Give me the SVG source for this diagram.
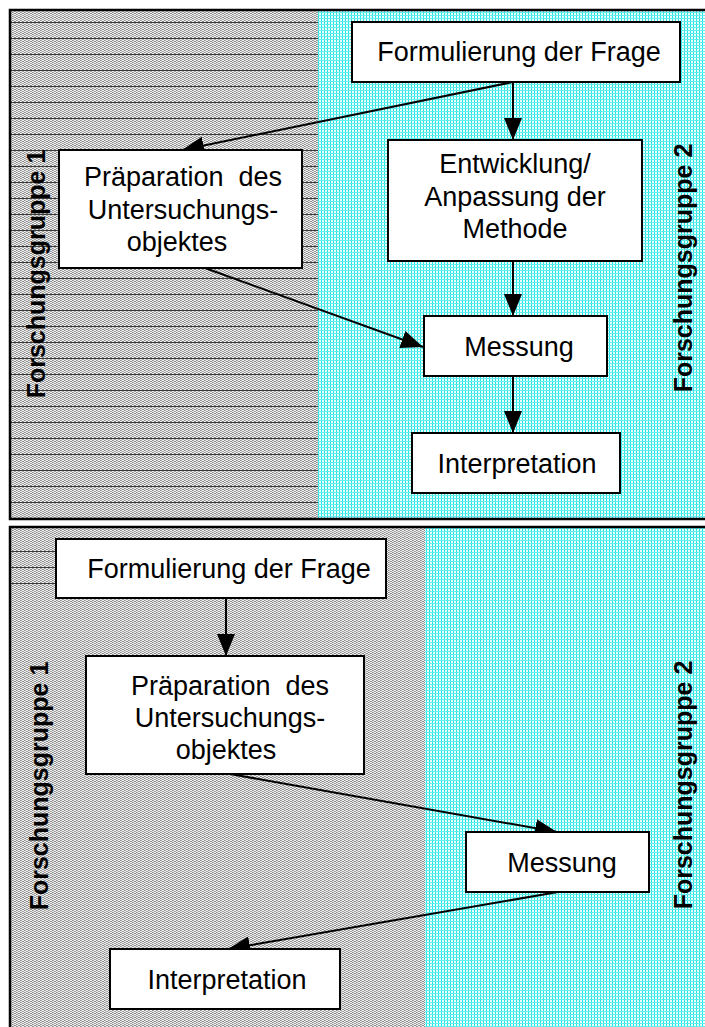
<svg xmlns="http://www.w3.org/2000/svg" width="705" height="1027" viewBox="0 0 705 1027">
<style>
.box{fill:#fff;stroke:#000;stroke-width:2}
.t{font-family:"Liberation Sans",Arial,sans-serif;font-size:27px;fill:#000;text-anchor:middle}
.lab{font-family:"Liberation Sans",Arial,sans-serif;font-size:25px;font-weight:bold;fill:#000;text-anchor:middle}
.con{stroke:#000;stroke-width:2;fill:none;marker-end:url(#ah)}
.hl{stroke:#3a3a3a;stroke-width:1}
</style>
<defs>
<pattern id="grey" width="4" height="4" patternUnits="userSpaceOnUse">
<rect width="4" height="4" fill="#f0f0f0"/>
<rect x="0" y="0" width="2" height="1" fill="#8c8c8c"/>
<rect x="2" y="1" width="2" height="1" fill="#8c8c8c"/>
<rect x="0" y="2" width="2" height="1" fill="#8c8c8c"/>
<rect x="2" y="3" width="2" height="1" fill="#a4a4a4"/>
<rect x="1" y="0" width="1" height="4" fill="#d0d0d0" opacity="0.5"/>
</pattern>
<pattern id="cyan" width="3" height="3" patternUnits="userSpaceOnUse">
<rect width="3" height="3" fill="#eaffff"/>
<rect x="0" y="0" width="1" height="3" fill="#22e4e4"/>
<rect x="0" y="0" width="3" height="1" fill="#66eeee"/>
</pattern>
<marker id="ah" markerUnits="userSpaceOnUse" markerWidth="22" markerHeight="18" refX="22" refY="9" orient="auto">
<path d="M0,0 L22,9 L0,18 z" fill="#000"/>
</marker>
</defs>

<g id="panel-top">
<rect x="10" y="10" width="308" height="509" fill="url(#grey)"/>
<rect x="318" y="10" width="387" height="509" fill="url(#cyan)"/>
<g id="hlines-top">
<line class="hl" x1="10" x2="318" y1="22.5" y2="22.5"/>
<line class="hl" x1="10" x2="318" y1="38.5" y2="38.5"/>
<line class="hl" x1="10" x2="318" y1="54.5" y2="54.5"/>
<line class="hl" x1="10" x2="318" y1="70.5" y2="70.5"/>
<line class="hl" x1="10" x2="318" y1="86.5" y2="86.5"/>
<line class="hl" x1="10" x2="318" y1="102.5" y2="102.5"/>
<line class="hl" x1="10" x2="318" y1="118.5" y2="118.5"/>
<line class="hl" x1="10" x2="318" y1="134.5" y2="134.5"/>
<line class="hl" x1="10" x2="318" y1="150.5" y2="150.5"/>
<line class="hl" x1="10" x2="318" y1="166.5" y2="166.5"/>
<line class="hl" x1="10" x2="318" y1="182.5" y2="182.5"/>
<line class="hl" x1="10" x2="318" y1="198.5" y2="198.5"/>
<line class="hl" x1="10" x2="318" y1="214.5" y2="214.5"/>
<line class="hl" x1="10" x2="318" y1="230.5" y2="230.5"/>
<line class="hl" x1="10" x2="318" y1="246.5" y2="246.5"/>
<line class="hl" x1="10" x2="318" y1="262.5" y2="262.5"/>
<line class="hl" x1="10" x2="318" y1="278.5" y2="278.5"/>
<line class="hl" x1="10" x2="318" y1="294.5" y2="294.5"/>
<line class="hl" x1="10" x2="318" y1="310.5" y2="310.5"/>
<line class="hl" x1="10" x2="318" y1="326.5" y2="326.5"/>
<line class="hl" x1="10" x2="318" y1="342.5" y2="342.5"/>
<line class="hl" x1="10" x2="318" y1="358.5" y2="358.5"/>
<line class="hl" x1="10" x2="318" y1="374.5" y2="374.5"/>
<line class="hl" x1="10" x2="318" y1="390.5" y2="390.5"/>
<line class="hl" x1="10" x2="318" y1="406.5" y2="406.5"/>
<line class="hl" x1="10" x2="318" y1="422.5" y2="422.5"/>
<line class="hl" x1="10" x2="318" y1="438.5" y2="438.5"/>
<line class="hl" x1="10" x2="318" y1="454.5" y2="454.5"/>
<line class="hl" x1="10" x2="318" y1="470.5" y2="470.5"/>
<line class="hl" x1="10" x2="318" y1="486.5" y2="486.5"/>
<line class="hl" x1="10" x2="318" y1="502.5" y2="502.5"/>
</g>
<rect x="10" y="10" width="697" height="509" fill="none" stroke="#000" stroke-width="2.5"/>
<text class="lab" transform="translate(45,274) rotate(-90)">Forschungsgruppe 1</text>
<text class="lab" transform="translate(692,268) rotate(-90)">Forschungsgruppe 2</text>
</g>

<g id="panel-bottom">
<rect x="10" y="527" width="415" height="500" fill="url(#grey)"/>
<rect x="425" y="527" width="280" height="500" fill="url(#cyan)"/>
<line class="hl" x1="10" x2="56" y1="551.5" y2="551.5"/>
<line class="hl" x1="10" x2="56" y1="567.5" y2="567.5"/>
<line class="hl" x1="10" x2="56" y1="583.5" y2="583.5"/>
<rect x="10" y="527" width="697" height="502" fill="none" stroke="#000" stroke-width="2.5"/>
<text class="lab" transform="translate(48,786) rotate(-90)">Forschungsgruppe 1</text>
<text class="lab" transform="translate(692,785) rotate(-90)">Forschungsgruppe 2</text>
</g>

<g id="connectors">
<line class="con" x1="513" y1="82" x2="182" y2="150"/>
<line class="con" x1="513" y1="82" x2="513" y2="140"/>
<line class="con" x1="205" y1="268" x2="423" y2="347"/>
<line class="con" x1="513" y1="261" x2="513" y2="316"/>
<line class="con" x1="513" y1="376" x2="513" y2="433"/>
<line class="con" x1="226" y1="598" x2="226" y2="656"/>
<line class="con" x1="230" y1="774" x2="557" y2="832"/>
<line class="con" x1="558" y1="892" x2="228" y2="949"/>
</g>

<g id="t-formulierung">
<rect class="box" x="352" y="22" width="328" height="60"/>
<text class="t" x="519" y="61">Formulierung der Frage</text>
</g>
<g id="t-entwicklung">
<rect class="box" x="388" y="140" width="254" height="121"/>
<text class="t" x="515" y="173">Entwicklung/</text>
<text class="t" x="515" y="206">Anpassung der</text>
<text class="t" x="515" y="238">Methode</text>
</g>
<g id="t-praeparation">
<rect class="box" x="59" y="150" width="243" height="118"/>
<text class="t" x="183" y="186" xml:space="preserve">Präparation  des</text>
<text class="t" x="183" y="219">Untersuchungs-</text>
<text class="t" x="177" y="251">objektes</text>
</g>
<g id="t-messung">
<rect class="box" x="424" y="316" width="183" height="60"/>
<text class="t" x="519" y="356">Messung</text>
</g>
<g id="t-interpretation">
<rect class="box" x="412" y="433" width="208" height="60"/>
<text class="t" x="517" y="473">Interpretation</text>
</g>

<g id="b-formulierung">
<rect class="box" x="56" y="539" width="330" height="59"/>
<text class="t" x="229" y="578">Formulierung der Frage</text>
</g>
<g id="b-praeparation">
<rect class="box" x="86" y="656" width="278" height="118"/>
<text class="t" x="230" y="695" xml:space="preserve">Präparation  des</text>
<text class="t" x="230" y="727">Untersuchungs-</text>
<text class="t" x="226" y="759">objektes</text>
</g>
<g id="b-messung">
<rect class="box" x="466" y="832" width="183" height="60"/>
<text class="t" x="562" y="872">Messung</text>
</g>
<g id="b-interpretation">
<rect class="box" x="110" y="949" width="230" height="60"/>
<text class="t" x="227" y="989">Interpretation</text>
</g>
</svg>
